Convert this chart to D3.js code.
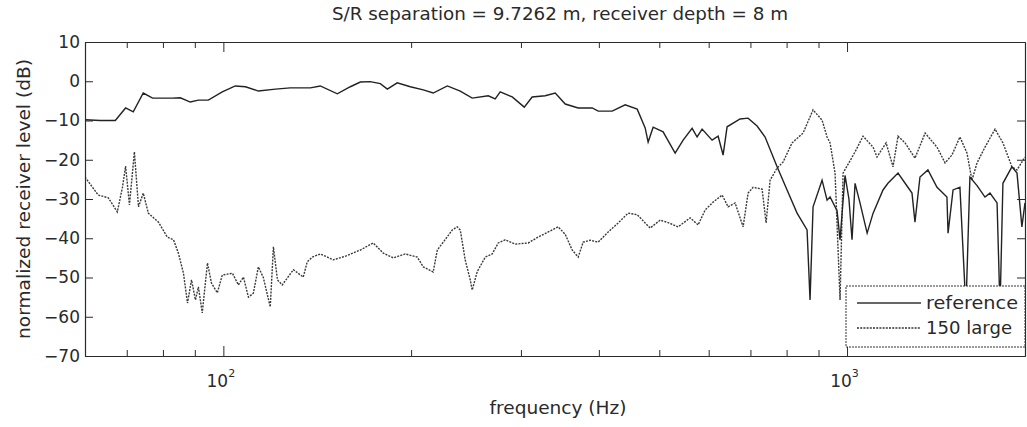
<!DOCTYPE html>
<html>
<head>
<meta charset="utf-8">
<script src="https://cdn.jsdelivr.net/npm/d3@7"></script>
<style>
  html, body { margin: 0; padding: 0; background: #fff; }
  svg { display: block; }
  text { font-family: "DejaVu Sans", sans-serif; fill: #2a2a2a; }
</style>
</head>
<body>
<svg id="chart" width="1027" height="427"></svg>
<script>
// ---- data ----
const titleText = "S/R separation = 9.7262 m, receiver depth = 8 m";
const xLabel = "frequency (Hz)";
const yLabel = "normalized receiver level (dB)";
const seriesNames = ["reference", "150 large"];

const yTicks = [10, 0, -10, -20, -30, -40, -50, -60, -70];
const xMajorTicks = [100, 1000];
const xMinorTicks = [70, 80, 90, 200, 300, 400, 500, 600, 700, 800, 900];
const xDomain = [60, 1929];
const yDomain = [-70, 10];

const refFreq = [60, 63.5, 67.1, 69.7, 71.7, 74.4, 77, 82.8, 85.3, 88.5, 91.2, 94.6, 99.6, 104.5, 108.5, 113.8,
  121.2, 128, 137.9, 143, 152.3, 159.8, 165.8, 172, 178.5, 183.2, 190, 199.4, 209.2, 217, 228.6, 239.8,
  250.6, 265.9, 272.8, 277.9, 290.5, 303.7, 312.7, 328.1, 340.5, 353.3, 370.6, 390.3, 399, 420.2, 440.8,
  460.8, 474.6, 479.8, 488.8, 507.1, 530.1, 546, 564.4, 574.9, 585.6, 607.6, 621.3, 632.8, 642.2, 673.8,
  694, 717.4, 738.9, 772.4, 801.4, 831.5, 862.8, 872.3, 882.1, 911.9, 928.9, 939.2, 963.8, 974.5, 992.6,
  1007, 1018.6, 1030, 1049, 1077, 1101, 1142, 1163, 1207, 1252, 1271, 1285, 1309, 1348, 1394, 1446, 1452,
  1479, 1517, 1551, 1574, 1616, 1664, 1695, 1740, 1759, 1778, 1838, 1873, 1907, 1929];
const refLevel = [-9.8, -10, -10, -6.8, -7.8, -3, -4.3, -4.3, -4.2, -5.3, -4.8, -4.8, -2.7, -1.2, -1.4, -2.5,
  -2, -1.7, -1.7, -1.2, -3.2, -1.4, -0.2, -0.1, -0.6, -2, -0.4, -1.4, -2.2, -3, -1.2, -2.5,
  -4.3, -3.7, -4.5, -2.7, -4, -6.6, -4, -3.7, -3, -5.8, -6.8, -6.8, -7.6, -7.6, -6,
  -7.1, -11.9, -15.5, -11.7, -12.9, -18.3, -15, -12, -14.2, -12.2, -15, -14, -18.8, -11.6, -9.6,
  -9.4, -11.4, -14.2, -21.8, -27.7, -33.6, -37.9, -55.7, -32, -25.2, -30.3, -29.5, -33, -40.4, -24,
  -30, -40.4, -26, -31, -38.7, -33.6, -27.7, -26, -23.4, -27, -28.5, -35.9, -24.4, -22.6, -27, -29.5, -38.7,
  -27.7, -27, -58, -24.4, -26.6, -29.5, -28.5, -31, -58, -26, -21.8, -23.4, -37.1, -31];

const largeFreq = [60, 63, 65.4, 67.6, 68.9, 69.7, 70.7, 72, 73.1, 74.4, 75.8, 78.7, 81.3, 83.2, 84.7, 86.3,
  87.6, 88.9, 90.2, 91.2, 92.5, 94.3, 95.7, 97.8, 99.6, 103.4, 105.7, 107.7, 109.7, 111.7, 113.8, 115.9,
  118.9, 120.3, 122.1, 124.3, 129.5, 134.3, 136.3, 138.9, 143, 150.1, 157.4, 165.8, 173.9, 180.5, 187.3,
  195.7, 204.6, 209.2, 217, 220.3, 225.2, 232.8, 237.1, 239.8, 244.2, 248.8, 250.6, 255.3, 263, 269.8,
  275.9, 283.1, 293.7, 308.2, 319.8, 331.8, 344.2, 353.3, 362.5, 370.6, 377.5, 387.4, 399, 414, 429.6,
  445.7, 460.8, 474.6, 483.4, 501.5, 516.6, 536, 560.3, 577.1, 592.2, 609.9, 630.5, 644.6, 661.5, 681.3,
  694, 706.9, 730.8, 741.7, 752.7, 772.4, 789.6, 816.3, 850.1, 882.1, 911.9, 928.9, 939.2, 956.7, 974.5,
  985.4, 1030, 1061, 1101, 1117, 1155, 1185, 1207, 1239, 1285, 1334, 1394, 1436, 1473, 1517, 1557, 1586,
  1616, 1664, 1727, 1778, 1838, 1873, 1929];
const largeLevel = [-24.4, -29, -29.7, -33.3, -27, -21.6, -31.5, -18, -32, -28.5, -33.6, -35.9, -39.7, -40.4, -43.8, -48.9,
  -56.5, -50.6, -55.7, -52.4, -59, -46.3, -51.4, -53.9, -49.4, -48.9, -51.9, -49.9, -55, -54, -47.3, -50,
  -57.5, -42.2, -50.6, -51.9, -48, -49.9, -46, -44.8, -44, -45.5, -44.5, -43, -41.2, -43.8, -45,
  -44, -44.8, -47.3, -48.6, -43, -41, -37.9, -37.1, -37.9, -45.5, -50.6, -53.2, -48.5, -44.8, -44,
  -41.2, -40.4, -41.5, -41.2, -39.7, -38.4, -37.1, -39, -43, -44.8, -41, -40.5, -41, -38.4, -36.1,
  -33.6, -34, -36.1, -37.4, -35.4, -36, -37.1, -34.8, -36.6, -32.8, -30.8, -29, -32, -31, -37.1,
  -28.5, -27, -27.5, -36.1, -25.2, -22.1, -20.6, -15.7, -13.2, -7.3, -9.9, -14.2, -15.7, -23.4, -55.7,
  -23.4, -18, -14, -16.8, -19.3, -15.7, -21.8, -14, -15.7, -19.6, -13.2, -16.8, -20.8, -18.8, -14.2, -18.3, -25.2,
  -20.8, -16.8, -12.2, -15.7, -21.8, -22.6, -19.3];

// ---- layout ----
const svg = d3.select("#chart");
const L = 85, R = 1025, T = 42, B = 356;
const x = d3.scaleLog().domain(xDomain).range([L, R]);
const y = d3.scaleLinear().domain(yDomain).range([B, T]);
const ink = "#2a2a2a";

svg.append("defs").append("clipPath").attr("id", "plotclip")
  .append("rect").attr("x", L).attr("y", T).attr("width", R - L).attr("height", B - T);

// lines
const refData = refFreq.map((f, i) => [f, refLevel[i]]);
const largeData = largeFreq.map((f, i) => [f, largeLevel[i]]);
const line = d3.line().x(d => x(d[0])).y(d => y(d[1]));
const g = svg.append("g").attr("clip-path", "url(#plotclip)");
g.append("path").datum(largeData).attr("d", line)
  .attr("fill", "none").attr("stroke", "#3a3a3a").attr("stroke-width", 1.4)
  .attr("stroke-dasharray", "2,1.2");
g.append("path").datum(refData).attr("d", line)
  .attr("fill", "none").attr("stroke", "#222").attr("stroke-width", 1.4);

// axes
function styleAxis(sel) {
  sel.selectAll("path.domain").attr("stroke", ink).attr("stroke-width", 1.2);
  sel.selectAll(".tick line").attr("stroke", ink);
}
const tickFont = 17;
svg.append("g").attr("transform", `translate(0,${B})`)
  .call(d3.axisBottom(x).tickValues(xMinorTicks).tickSize(-6).tickSizeOuter(0).tickFormat(""))
  .call(styleAxis);
const xb = svg.append("g").attr("transform", `translate(0,${B})`)
  .call(d3.axisBottom(x).tickValues(xMajorTicks).tickSize(-10).tickSizeOuter(0).tickFormat(""))
  .call(styleAxis);
xb.selectAll(".tick text").remove();
xb.selectAll(".tick").append("text")
  .attr("x", -3).attr("y", 31).attr("text-anchor", "middle")
  .attr("font-size", tickFont).attr("fill", ink)
  .each(function(d) {
    const t = d3.select(this);
    t.append("tspan").text("10");
    t.append("tspan").attr("dy", -10).attr("font-size", 11).text(String(Math.round(Math.log10(d))));
  });
svg.append("g").attr("transform", `translate(0,${T})`)
  .call(d3.axisTop(x).tickValues(xMinorTicks).tickSize(-6).tickSizeOuter(0).tickFormat(""))
  .call(styleAxis);
svg.append("g").attr("transform", `translate(0,${T})`)
  .call(d3.axisTop(x).tickValues(xMajorTicks).tickSize(-10).tickSizeOuter(0).tickFormat(""))
  .call(styleAxis);

const yl = svg.append("g").attr("transform", `translate(${L},0)`)
  .call(d3.axisLeft(y).tickValues(yTicks).tickSize(-8).tickSizeOuter(0).tickPadding(5)
    .tickFormat(d => (d < 0 ? "\u2212" : "") + Math.abs(d)))
  .call(styleAxis);
yl.selectAll(".tick text").attr("font-size", tickFont).attr("fill", ink)
  .attr("font-family", "DejaVu Sans");
svg.append("g").attr("transform", `translate(${R},0)`)
  .call(d3.axisRight(y).tickValues(yTicks).tickSize(-8).tickSizeOuter(0).tickFormat(""))
  .call(styleAxis);

// titles
svg.append("text").attr("x", 560).attr("y", 20).attr("text-anchor", "middle")
  .attr("font-size", 17).attr("textLength", 456).attr("lengthAdjust", "spacingAndGlyphs")
  .text(titleText);
svg.append("text").attr("x", 558).attr("y", 414).attr("text-anchor", "middle")
  .attr("font-size", 17).attr("textLength", 137).attr("lengthAdjust", "spacingAndGlyphs")
  .text(xLabel);
svg.append("text").attr("transform", `translate(30,${(T + B) / 2}) rotate(-90)`)
  .attr("text-anchor", "middle").attr("font-size", 17)
  .attr("textLength", 280).attr("lengthAdjust", "spacingAndGlyphs").text(yLabel);

// legend
const lg = svg.append("g");
lg.append("rect").attr("x", 846).attr("y", 286).attr("width", 179).attr("height", 61)
  .attr("fill", "#fff").attr("stroke", "#333").attr("stroke-width", 1)
  .attr("stroke-dasharray", "2,1");
const legendRows = [
  { name: seriesNames[0], dash: null, yy: 303, len: 92 },
  { name: seriesNames[1], dash: "2,1.2", yy: 328, len: 86 }
];
legendRows.forEach(r => {
  lg.append("line").attr("x1", 857).attr("x2", 921).attr("y1", r.yy).attr("y2", r.yy)
    .attr("stroke", "#333").attr("stroke-width", 1.4)
    .attr("stroke-dasharray", r.dash);
  lg.append("text").attr("x", 926).attr("y", r.yy + 6).attr("font-size", 17)
    .attr("textLength", r.len).attr("lengthAdjust", "spacingAndGlyphs").text(r.name);
});
</script>
</body>
</html>
